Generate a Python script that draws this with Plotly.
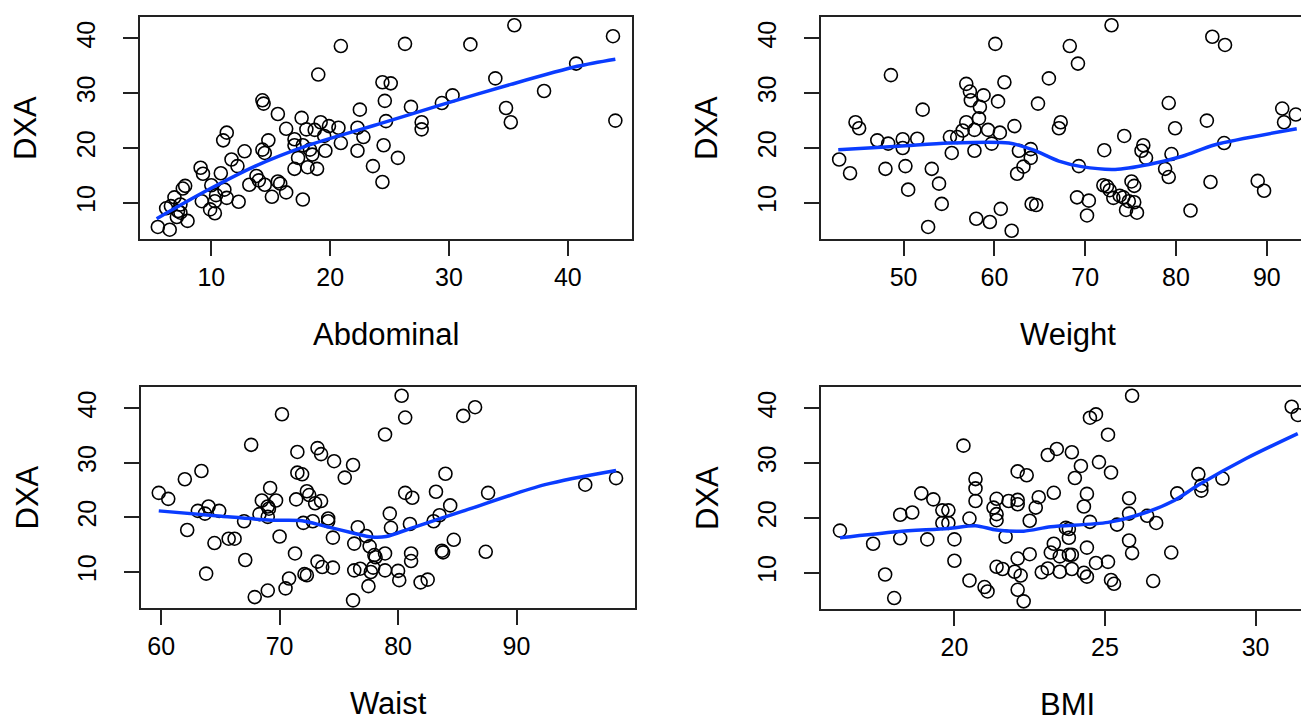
import plotly.graph_objects as go

# DXA vs four body measures (open circles + loess curve)
abd_x = [20.9, 19.0, 24.4, 24.6, 14.3, 14.4, 15.6, 17.6, 22.5, 19.2, 19.9, 20.7, 18.0, 18.7, 16.3, 22.3,
         24.7, 11.3, 11.0, 14.8, 17.0, 19.5, 20.9, 22.8, 14.3, 14.5, 12.8, 17.0, 17.7, 18.3, 18.5, 17.3,
         19.6, 22.3, 24.5, 11.7, 12.2, 9.1, 9.3, 10.8, 17.0, 18.1, 18.9, 23.6, 24.4, 13.8, 14.0, 14.5,
         13.2, 15.6, 15.8, 16.3, 15.1, 17.7, 10.0, 11.1, 10.4, 10.3, 9.2, 11.3, 12.3, 9.9, 10.3, 7.8,
         7.6, 6.9, 6.2, 6.6, 7.4, 7.2, 7.4, 8.0, 7.1, 5.5, 6.5,
         35.5, 26.3, 31.8, 43.8, 40.7, 25.1, 33.9, 38.0, 26.8, 29.4, 30.3, 34.8, 35.2, 44.0, 27.7, 27.7, 25.7]
abd_y = [38.6, 33.4, 32.0, 28.6, 28.7, 28.1, 26.2, 25.5, 27.0, 24.7, 24.0, 23.7, 23.4, 23.3, 23.5, 23.7,
         24.9, 22.8, 21.4, 21.4, 21.6, 22.2, 20.9, 22.0, 19.7, 19.1, 19.4, 20.5, 20.5, 19.7, 18.8, 18.2,
         19.5, 19.5, 20.5, 17.9, 16.7, 16.4, 15.3, 15.4, 16.2, 16.5, 16.2, 16.7, 13.8, 14.9, 14.1, 13.3,
         13.3, 13.9, 13.5, 11.9, 11.1, 10.6, 13.2, 12.4, 11.4, 10.3, 10.3, 10.9, 10.2, 8.8, 8.1, 13.1,
         12.6, 11.0, 9.0, 9.4, 9.7, 8.5, 8.2, 6.7, 7.4, 5.6, 5.1,
         42.4, 39.0, 38.9, 40.4, 35.4, 31.8, 32.7, 30.4, 27.5, 28.2, 29.6, 27.3, 24.7, 25.0, 24.7, 23.4, 18.2]
abd_fit_x = [5.4, 9.5, 13.7, 17.9, 24.0, 29.4, 35.2, 40.8, 44.0]
abd_fit_y = [7.1, 12.1, 16.7, 20.3, 24.3, 27.9, 31.6, 34.9, 36.2]

wt_x = [60.1, 48.6, 66.0, 56.9, 57.3, 61.1, 58.8, 57.4, 60.4, 58.4, 64.8, 52.1, 58.3, 56.9, 56.5, 57.8,
        59.3, 60.6, 62.2, 44.7, 45.1, 47.1, 48.3, 49.9, 49.9, 51.5, 55.1, 55.9, 59.7, 55.3, 57.8, 62.7,
        64.0, 64.0, 63.2, 62.5, 42.9, 44.1, 48.0, 50.2, 53.1, 53.9, 50.5, 54.2, 64.1, 64.6, 60.7, 58.0,
        59.5, 52.7, 61.9,
        72.9, 84.0, 85.4, 68.3, 69.2, 79.2, 91.7, 93.2, 91.9, 83.4, 67.3, 67.1, 79.9, 74.3, 76.4, 76.2,
        76.7, 72.1, 79.5, 85.3, 69.3, 78.8, 79.2, 83.8, 89.0, 89.7, 75.1, 75.4, 72.0, 72.4, 72.7, 73.1,
        73.8, 74.2, 74.8, 75.4, 74.5, 75.7, 69.1, 70.4, 70.2, 81.6]
wt_y = [39.0, 33.3, 32.7, 31.7, 30.3, 32.0, 29.6, 28.7, 28.5, 27.5, 28.1, 27.0, 25.4, 24.7, 23.2, 23.3,
        23.3, 22.8, 24.0, 24.7, 23.6, 21.4, 20.8, 21.6, 20.0, 21.7, 22.0, 22.0, 20.8, 19.1, 19.5, 19.5,
        19.8, 18.2, 16.6, 15.3, 17.9, 15.4, 16.2, 16.7, 16.2, 13.5, 12.4, 9.8, 9.8, 9.6, 8.9, 7.1,
        6.5, 5.6, 4.9,
        42.4, 40.3, 38.8, 38.6, 35.4, 28.2, 27.2, 26.1, 24.7, 25.0, 24.7, 23.6, 23.6, 22.2, 20.5, 19.5,
        18.2, 19.6, 18.9, 20.9, 16.7, 16.2, 14.7, 13.8, 14.0, 12.2, 13.9, 13.1, 13.2, 13.0, 12.3, 10.9,
        11.3, 11.0, 10.3, 10.1, 8.7, 8.2, 11.0, 10.4, 7.7, 8.6]
wt_fit_x = [42.8, 49.4, 55.0, 61.6, 64.2, 67.1, 69.6, 73.3, 77.0, 80.7, 84.3, 93.3]
wt_fit_y = [19.7, 20.3, 20.9, 20.9, 19.7, 17.6, 16.6, 16.1, 17.0, 18.5, 20.6, 23.5]

waist_x = [70.2, 78.9, 67.6, 73.2, 73.5, 71.5, 74.6, 76.2, 75.5, 71.5, 71.9, 63.4, 62.0, 59.8, 60.6, 69.2,
           68.5, 69.7, 69.0, 69.1, 68.3, 69.0, 71.4, 72.3, 72.5, 73.0, 73.5, 63.1, 64.0, 63.7, 64.9, 67.0,
           72.0, 72.8, 74.1, 74.1, 62.2, 64.5, 65.7, 66.2, 70.0, 74.5, 76.6, 76.3, 77.3, 77.6, 78.0, 78.1,
           78.9, 78.9, 77.9, 77.7, 76.8, 76.3, 77.5, 76.2, 67.1, 71.3, 73.2, 73.6, 74.5, 72.1, 72.3, 63.8,
           70.8, 70.5, 69.0, 67.9,
           80.3, 80.6, 85.5, 86.5, 84.0, 80.6, 81.2, 83.2, 87.6, 95.8, 98.4, 79.3, 79.4, 81.0, 83.0, 83.5,
           84.4, 84.7, 83.7, 83.8, 87.4, 81.1, 81.1, 80.0, 80.1, 81.9, 82.5]
waist_y = [38.9, 35.2, 33.3, 32.7, 31.6, 32.0, 30.3, 29.6, 27.3, 28.2, 27.9, 28.5, 27.0, 24.5, 23.4, 25.4,
           23.1, 23.1, 22.0, 21.6, 20.6, 20.1, 23.3, 24.8, 24.1, 22.6, 23.0, 21.2, 22.0, 20.7, 21.2, 19.3,
           19.0, 19.3, 19.8, 19.3, 17.7, 15.3, 16.1, 16.1, 16.5, 16.3, 18.2, 15.2, 16.6, 14.7, 13.1, 12.7,
           13.4, 10.3, 10.8, 10.0, 10.6, 10.3, 7.4, 4.8, 12.2, 13.4, 11.9, 10.9, 10.8, 9.6, 9.4, 9.7,
           8.8, 7.0, 6.6, 5.4,
           42.3, 38.3, 38.6, 40.2, 28.0, 24.5, 23.6, 24.7, 24.5, 26.0, 27.2, 20.7, 18.1, 18.8, 19.3, 20.4,
           22.2, 15.9, 13.9, 13.6, 13.7, 13.4, 12.0, 10.2, 8.5, 8.1, 8.6]
waist_fit_x = [59.8, 65.1, 69.3, 71.9, 73.8, 76.1, 77.8, 79.0, 81.2, 85.4, 92.4, 98.4]
waist_fit_y = [21.2, 20.2, 19.5, 19.4, 18.4, 17.2, 16.4, 16.5, 18.1, 21.1, 26.0, 28.6]

bmi_x = [16.2, 17.3, 17.7, 18.0, 18.2, 18.6, 18.2, 18.9, 19.3, 19.1, 19.6, 19.8, 19.6, 19.8, 20.0, 20.0,
         20.3, 20.7, 20.7, 20.7, 20.5, 20.5, 21.0, 21.1, 21.4, 21.3, 21.4, 21.4, 21.7, 21.4, 21.6, 21.8,
         22.1, 22.1, 22.1, 22.4, 22.8, 22.7, 22.5, 23.1, 23.4, 23.3, 22.1, 22.5, 22.0, 22.2, 22.1, 22.3,
         22.9, 23.1, 23.3, 23.2,
         25.9, 24.5, 24.7, 25.1, 31.2, 31.4, 23.9, 24.2, 24.8, 25.2, 24.0, 24.4, 24.3, 25.8, 25.8, 24.5,
         25.4, 26.4, 26.7, 27.4, 28.1, 28.2, 28.2, 28.9, 23.7, 23.8, 23.8, 23.5, 23.8, 23.9, 24.4, 25.8,
         25.9, 27.2, 24.7, 25.1, 23.5, 23.9, 24.3, 24.4, 25.2, 25.3, 26.6]
bmi_y = [17.7, 15.3, 9.7, 5.4, 20.6, 21.0, 16.3, 24.5, 23.4, 16.1, 21.4, 21.4, 19.1, 19.1, 16.1, 12.2,
         33.2, 27.1, 25.4, 23.1, 19.9, 8.6, 7.4, 6.6, 23.5, 21.9, 20.7, 19.6, 16.6, 11.1, 10.7, 23.1,
         23.3, 22.5, 28.5, 27.8, 23.8, 21.9, 19.5, 31.5, 32.6, 24.6, 12.6, 13.4, 10.2, 9.5, 6.9, 4.8,
         10.1, 10.8, 15.3, 13.7,
         42.3, 38.3, 38.9, 35.2, 40.3, 38.8, 32.0, 29.5, 30.2, 28.3, 27.3, 24.4, 22.1, 23.6, 20.8, 19.3,
         18.8, 20.4, 19.1, 24.5, 28.0, 25.9, 25.0, 27.2, 18.2, 18.0, 16.4, 13.0, 13.3, 13.3, 14.6, 15.9,
         13.6, 13.7, 11.8, 12.0, 10.2, 10.7, 10.0, 9.3, 8.7, 8.0, 8.5]
bmi_fit_x = [16.2, 18.1, 19.8, 20.7, 21.4, 22.3, 23.2, 25.1, 26.4, 27.3, 28.1, 29.7, 31.4]
bmi_fit_y = [16.4, 17.5, 18.1, 18.6, 17.8, 17.6, 18.4, 19.2, 21.1, 23.2, 26.0, 30.9, 35.4]

panels = [
    ("Abdominal", abd_x, abd_y, abd_fit_x, abd_fit_y, [4.0, 45.4], [10, 20, 30, 40]),
    ("Weight", wt_x, wt_y, wt_fit_x, wt_fit_y, [40.9, 95.2], [50, 60, 70, 80, 90]),
    ("Waist", waist_x, waist_y, waist_fit_x, waist_fit_y, [58.3, 100.0], [60, 70, 80, 90]),
    ("BMI", bmi_x, bmi_y, bmi_fit_x, bmi_fit_y, [15.57, 31.94], [20, 25, 30]),
]

W, H = 1309, 720
# plot boxes in pixels: (left, right, top, bottom)
boxes = [(132, 624, 9, 231), (813, 1306, 9, 231), (133, 627, 379, 600), (813, 1306, 379, 601)]

FONT = "Liberation Sans, Arial, Helvetica, sans-serif"
BLUE = "#0a3cff"

fig = go.Figure()
layout = dict(width=W, height=H, margin=dict(l=0, r=0, t=0, b=0),
              paper_bgcolor="white", plot_bgcolor="white", showlegend=False,
              font=dict(family=FONT, color="black"))
annotations = []

for i, (name, xs, ys, fx, fy, xr, xt) in enumerate(panels):
    n = "" if i == 0 else str(i + 1)
    left, right, top, bottom = boxes[i]
    fig.add_trace(go.Scatter(x=xs, y=ys, mode="markers", xaxis="x" + n, yaxis="y" + n,
                             marker=dict(symbol="circle-open", size=13, color="black",
                                         line=dict(width=1.6))))
    fig.add_trace(go.Scatter(x=fx, y=fy, mode="lines", xaxis="x" + n, yaxis="y" + n,
                             line=dict(color=BLUE, width=3.5, shape="spline", smoothing=0.8)))
    axis_common = dict(showgrid=False, zeroline=False, showline=True, linecolor="#222",
                       linewidth=1.5, mirror=True, ticks="outside", ticklen=15, tickwidth=1.5,
                       tickcolor="#222", tickfont=dict(size=25, family=FONT, color="black"))
    layout["xaxis" + n] = dict(axis_common, domain=[left / W, right / W], range=xr,
                               tickvals=xt, anchor="y" + n, ticklabelstandoff=0)
    layout["yaxis" + n] = dict(axis_common, domain=[1 - bottom / H, 1 - top / H],
                               range=[3.4, 43.9], tickvals=[10, 20, 30, 40], anchor="x" + n,
                               tickangle=-90, ticklabelstandoff=18)
    annotations.append(dict(text=name, xref="x%s domain" % n, yref="y%s domain" % n,
                            x=0.5, y=0, yshift=-95, showarrow=False, borderpad=0,
                            xanchor="center", yanchor="middle", font=dict(size=31)))
    annotations.append(dict(text="DXA", xref="x%s domain" % n, yref="y%s domain" % n,
                            x=0, y=0.5, xshift=-114, showarrow=False, textangle=-90, borderpad=0,
                            xanchor="center", yanchor="middle", font=dict(size=31)))

layout["annotations"] = annotations
fig.update_layout(**layout)
fig.write_html("out.html")
